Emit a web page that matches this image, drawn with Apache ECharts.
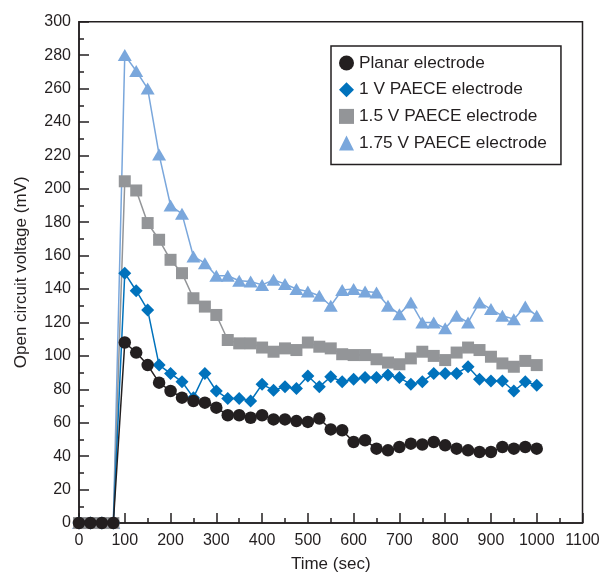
<!DOCTYPE html>
<html>
<head>
<meta charset="utf-8">
<script src="https://cdn.jsdelivr.net/npm/echarts@6/dist/echarts.min.js"></script>
<style>
html,body{margin:0;padding:0;background:#fff;}
#chart{width:612px;height:578px;}
</style>
</head>
<body>
<div id="chart"></div>
<script>
// Time points (sec)
const times = [0,25,50,75,100,125,150,175,200,225,250,275,300,325,350,375,400,425,450,475,500,525,550,575,600,625,650,675,700,725,750,775,800,825,850,875,900,925,950,975,1000];

// Series values (mV)
const planar = [0,0,0,0,108,102,94.5,84,79,75,73,72,69,64.5,64.5,63,64.5,62,62,61,60.5,62.5,56,55.5,48.5,49.5,44.5,43.5,45.5,47.5,47,48.5,46.5,44.5,43.5,42.5,42.5,45.5,44.5,45.5,44.5];
const paece1 = [0,0,0,0,149.5,139,127.5,94.5,89.5,84.5,75,89.5,79,74.5,74.5,73,83,79.5,81.5,80.5,88,81.5,87.5,84.5,86,87,87,88.5,87,83,84.5,89.5,89.5,89.5,93.5,86,85,85,79,84.5,82.5];
const paece15 = [0,0,0,0,204.5,199,179.5,169.5,157.5,149.5,134.5,129.5,124.5,109.5,107.5,107.5,105,102.5,104.5,103.5,108,105.5,104.5,101,100.5,100.5,98,96,95,98.5,102.5,100,97.5,102,105,103.5,99.5,95.5,93.5,97,94.5];
const paece175 = [0,0,0,0,280,270.5,260,220.5,190,185,159.5,155.5,148,148,145,144.5,142.5,145.5,143,140,138.5,136,130,139.5,140,138.5,138,130,125,132,120,120,116.5,124,120,132,128,124,122,129.5,124];

const seriesNames = ['Planar electrode','1 V PAECE electrode','1.5 V PAECE electrode','1.75 V PAECE electrode'];

const ink = '#231f20';
const font = "'Liberation Sans', Arial, Helvetica, sans-serif";

function pairs(vals){ return times.map((t,i)=>[t, vals[i]]); }

const chart = echarts.init(document.getElementById('chart'), null, {renderer:'canvas'});

const specs = [
  {name: seriesNames[0], data: planar, color: ink, symbol: 'circle', size: 12.5, z: 5},
  {name: seriesNames[1], data: paece1, color: '#0072bc', symbol: 'diamond', size: 13, z: 4},
  {name: seriesNames[2], data: paece15, color: '#939598', symbol: 'rect', size: 12, z: 3},
  {name: seriesNames[3], data: paece175, color: '#7aa7dc', symbol: 'triangle', size: [14,12], z: 2}
];

chart.setOption({
  animation: false,
  backgroundColor: '#fff',
  grid: {
    left: 79, right: 29.5, top: 21.7, bottom: 52,
    show: true, borderColor: ink, borderWidth: 1.5, backgroundColor: 'transparent'
  },
  legend: {
    orient: 'vertical',
    left: 331, top: 46,
    padding: [8.5, 14, 13, 8],
    itemGap: 9.7,
    itemWidth: 15, itemHeight: 15,
    borderColor: ink, borderWidth: 1.5,
    backgroundColor: '#fff',
    textStyle: {fontFamily: font, fontSize: 17.3, color: ink, lineHeight: 17},
    data: [
      {name: seriesNames[0], icon: 'circle'},
      {name: seriesNames[1], icon: 'diamond'},
      {name: seriesNames[2], icon: 'rect'},
      {name: seriesNames[3], icon: 'triangle'}
    ]
  },
  xAxis: {
    type: 'value', min: 0, max: 1100, interval: 100,
    name: 'Time (sec)', nameLocation: 'middle', nameGap: 33,
    nameTextStyle: {fontFamily: font, fontSize: 17, color: ink},
    axisLine: {show: true, onZero: false, lineStyle: {color: ink, width: 1.5}},
    axisTick: {show: true, inside: true, length: 10, lineStyle: {color: ink, width: 1.5}},
    minorTick: {show: true, splitNumber: 2, length: 5, lineStyle: {color: ink, width: 1.5}},
    axisLabel: {fontFamily: font, fontSize: 16, color: ink, margin: 10, formatter: v => String(v)},
    splitLine: {show: false}
  },
  yAxis: {
    type: 'value', min: 0, max: 300, interval: 20,
    name: 'Open circuit voltage (mV)', nameLocation: 'middle', nameGap: 49,
    nameTextStyle: {fontFamily: font, fontSize: 17, color: ink},
    axisLine: {show: true, lineStyle: {color: ink, width: 1.5}},
    axisTick: {show: true, inside: true, length: 10, lineStyle: {color: ink, width: 1.5}},
    minorTick: {show: true, splitNumber: 2, length: 5, lineStyle: {color: ink, width: 1.5}},
    axisLabel: {fontFamily: font, fontSize: 16, color: ink, margin: 8, formatter: v => String(v)},
    splitLine: {show: false}
  },
  series: specs.map(s => ({
    type: 'line',
    name: s.name,
    data: pairs(s.data),
    z: s.z,
    symbol: s.symbol,
    symbolSize: s.size,
    showAllSymbol: true,
    clip: false,
    lineStyle: {color: s.color, width: 1.5},
    itemStyle: {color: s.color, borderWidth: 0}
  }))
});
</script>
</body>
</html>
